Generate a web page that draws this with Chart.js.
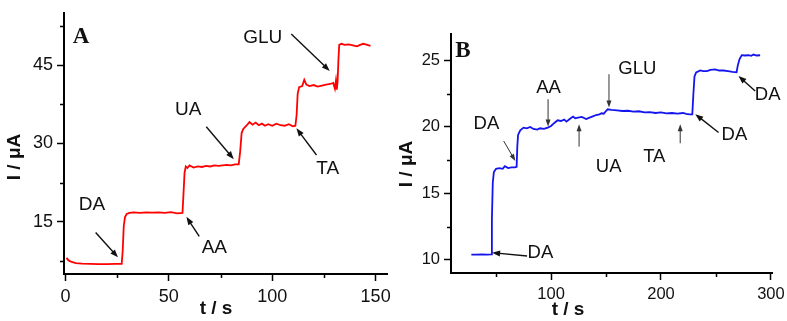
<!DOCTYPE html>
<html>
<head>
<meta charset="utf-8">
<script src="https://cdn.jsdelivr.net/npm/chart.js@4.4.1/dist/chart.umd.min.js"></script>
<style>
  html, body { margin: 0; padding: 0; background: #fff; }
  #wrap { position: relative; width: 787px; height: 321px; overflow: hidden; background: #fff; }
  canvas { position: absolute; top: 0; }
  #chartA { left: 0; }
  #chartB { left: 390px; }
</style>
</head>
<body>
<div id="wrap">
  <canvas id="chartA" width="400" height="321"></canvas>
  <canvas id="chartB" width="397" height="321"></canvas>
</div>
<script>
// Panel A: time (s) and current (µA)
const timeA = [0.5, 1.5, 3, 5, 8, 12, 16, 20, 24, 27.2, 27.7, 28.2, 28.8, 29.6, 31, 33, 36, 39, 42, 45, 48, 51, 54, 56.6,
  57.1, 57.6, 58.2, 59, 60, 62, 64, 66, 68, 70, 72, 74, 76, 78, 80, 82, 83.8, 84.5, 85.2, 86, 87.5, 89, 90.5, 92,
  93.5, 95, 96.5, 98, 100, 102, 104, 106, 108, 110, 111.2, 111.8, 112.3, 113, 114.5, 115.5, 116.5, 118, 120, 122,
  124, 126, 128, 129.5, 130.3, 130.8, 131.2, 131.6, 132, 132.4, 133.5, 135, 137, 139, 141, 142.5, 144, 146, 147.5];
const currentA = [8.1, 7.6, 7.3, 7.1, 7.0, 6.95, 6.9, 6.9, 6.95, 6.95, 9.5, 14.2, 15.9, 16.5, 16.7, 16.8, 16.7, 16.8, 16.75, 16.8, 16.7, 16.85, 16.6, 16.7,
  20.5, 24.4, 25.6, 25.3, 25.8, 25.4, 25.6, 25.5, 25.7, 25.6, 25.8, 25.7, 25.8, 25.9, 25.8, 26.0, 26.0, 28.5, 32.0, 32.8, 33.4, 34.1, 33.6, 34.0,
  33.5, 33.8, 33.4, 33.7, 33.4, 33.8, 33.5, 33.4, 33.7, 33.3, 33.4, 35.5, 39.5, 40.8, 41.0, 42.2, 41.3, 41.0, 41.2, 40.9,
  41.1, 41.3, 41.4, 41.6, 40.5, 42.0, 40.3, 41.8, 46, 48.9, 49.1, 48.9, 49.0, 48.8, 48.6, 48.9, 49.1, 48.9, 48.7];
const xTicksA = [0, 50, 100, 150];
const xMinorA = [25, 75, 125];
const yTicksA = [15, 30, 45];
const yMinorA = [7.5, 22.5, 37.5, 52.5];
const notesA = [
  { text: 'DA', at: [12.8, 18.3], from: [14.6, 12.96], to: [25.4, 8.19] },
  { text: 'AA', at: [72.0, 10.1], from: [64.7, 12.2], to: [58.5, 15.95] },
  { text: 'UA', at: [59.4, 36.4], from: [68.1, 33.2], to: [81.4, 27.0] },
  { text: 'TA', at: [126.8, 25.2], from: [121.4, 27.8], to: [111.7, 32.9] },
  { text: 'GLU', at: [95.4, 50.3], from: [109.2, 51.0], to: [127.8, 43.9] }
];

// Panel B: blue trace
const timeB = [27.5, 32, 37, 42, 45.5, 46.2, 47, 48, 50, 53, 56, 58, 61, 64, 67, 68.7, 69.3, 70, 72, 75, 78, 81, 84,
  87.5, 90, 93.5, 97, 100, 103, 106, 109, 112, 114, 117, 120, 122, 124.5, 128, 132, 135, 138, 141, 144, 146, 148, 150,
  151.5, 155, 160, 165, 170, 175, 180, 185, 190, 195, 200, 205, 210, 215, 220, 223, 226, 228.5, 229.5, 230.5, 232,
  235.7, 238.5, 241.8, 245, 249.3, 253, 256.9, 261, 265, 268.8, 269.8, 271.4, 273.5, 276, 279.6, 282, 284.2, 287, 290.2];
const currentB = [10.38, 10.38, 10.4, 10.38, 10.4, 13.0, 15.8, 16.6, 16.85, 16.9, 16.85, 17.05, 16.9, 16.95, 16.95, 17.0, 18.5, 19.4, 19.75, 19.95, 19.9, 20.0, 19.85,
  19.8, 19.9, 19.85, 19.95, 20.07, 20.3, 20.5, 20.45, 20.55, 20.4, 20.6, 20.78, 20.65, 20.7, 20.75, 20.6, 20.7, 20.8, 20.9, 20.95, 21.03, 21.0, 21.2,
  21.33, 21.28, 21.25, 21.2, 21.22, 21.15, 21.18, 21.1, 21.12, 21.05, 21.1, 21.02, 21.05, 21.0, 21.05, 20.98, 20.95, 20.95, 22.5, 23.8, 24.1,
  24.26, 24.2, 24.2, 24.3, 24.34, 24.25, 24.25, 24.2, 24.15, 24.12, 24.6, 25.09, 25.41, 25.38, 25.4, 25.35, 25.45, 25.38, 25.4];
const xTicksB = [100, 200, 300];
const xMinorB = [50, 150, 250];
const yTicksB = [10, 15, 20, 25];
const yMinorB = [12.5, 17.5, 22.5];
const notesB = [
  { text: 'DA', at: [90.3, 10.48], from: [78.2, 10.28], to: [46.4, 10.53] },
  { text: 'DA', at: [41.2, 20.24], from: [56.9, 18.94], to: [67.5, 17.44], thin: true },
  { text: 'AA', at: [97.7, 22.97], from: [97.3, 22.09], to: [97.3, 20.03], thin: true },
  { text: 'GLU', at: [178.5, 24.37], from: [152.7, 23.97], to: [152.7, 21.46], thin: true },
  { text: 'UA', at: [152.4, 17.0], from: [125.5, 18.52], to: [125.5, 20.2], thin: true },
  { text: 'TA', at: [193.9, 17.74], from: [217.5, 18.77], to: [217.5, 20.2], thin: true },
  { text: 'DA', at: [266.8, 19.39], from: [252.4, 19.58], to: [231.2, 20.96] },
  { text: 'DA', at: [297.1, 22.4], from: [285.7, 22.71], to: [270.5, 23.84] }
];

const SANS = '"Liberation Sans", Arial, sans-serif';
const SERIF = '"Liberation Serif", "Times New Roman", serif';

function arrow(ctx, x1, y1, x2, y2, thin) {
  const ang = Math.atan2(y2 - y1, x2 - x1);
  const len = thin ? 7 : 8, half = thin ? 2.5 : 3;
  ctx.strokeStyle = thin ? '#333' : '#111';
  ctx.fillStyle = ctx.strokeStyle;
  ctx.lineWidth = thin ? 1 : 1.4;
  ctx.beginPath();
  ctx.moveTo(x1, y1);
  ctx.lineTo(x2 - Math.cos(ang) * len * 0.6, y2 - Math.sin(ang) * len * 0.6);
  ctx.stroke();
  ctx.beginPath();
  ctx.moveTo(x2, y2);
  ctx.lineTo(x2 - Math.cos(ang) * len - Math.sin(ang) * half, y2 - Math.sin(ang) * len + Math.cos(ang) * half);
  ctx.lineTo(x2 - Math.cos(ang) * len + Math.sin(ang) * half, y2 - Math.sin(ang) * len - Math.cos(ang) * half);
  ctx.closePath();
  ctx.fill();
}

// minor ticks, annotations, axis titles and panel letter
function decor(p) {
  return {
    id: 'decor',
    afterDraw(chart) {
      const { ctx, chartArea: a, scales: { x, y } } = chart;
      ctx.save();
      ctx.strokeStyle = '#000';
      ctx.lineWidth = 1.5;
      ctx.beginPath();
      p.xMinor.forEach(v => {
        const px = Math.round(x.getPixelForValue(v)) + 0.5;
        ctx.moveTo(px, a.bottom); ctx.lineTo(px, a.bottom + 4);
      });
      p.yMinor.forEach(v => {
        const py = Math.round(y.getPixelForValue(v)) + 0.5;
        ctx.moveTo(a.left, py); ctx.lineTo(a.left - 4, py);
      });
      ctx.stroke();

      ctx.textAlign = 'center';
      ctx.textBaseline = 'middle';
      p.notes.forEach(n => {
        ctx.fillStyle = '#111';
        ctx.font = p.noteSize + 'px ' + SANS;
        ctx.fillText(n.text, x.getPixelForValue(n.at[0]), y.getPixelForValue(n.at[1]));
        arrow(ctx, x.getPixelForValue(n.from[0]), y.getPixelForValue(n.from[1]),
          x.getPixelForValue(n.to[0]), y.getPixelForValue(n.to[1]), n.thin);
      });

      ctx.fillStyle = '#111';
      ctx.font = 'bold 23px ' + SERIF;
      ctx.fillText(p.letter, a.left + p.letterPos[0], a.top + p.letterPos[1]);

      ctx.font = 'bold 19px ' + SANS;
      ctx.fillText('t / s', p.xTitle[0], p.xTitle[1]);
      ctx.save();
      ctx.translate(p.yTitle[0], p.yTitle[1]);
      ctx.rotate(-Math.PI / 2);
      ctx.fillText('I / μA', 0, 0);
      ctx.restore();
      ctx.restore();
    }
  };
}

function makeChart(id, xs, ys, color, o) {
  const tickFont = { family: SANS, size: o.tickSize };
  return new Chart(document.getElementById(id), {
    type: 'line',
    data: {
      datasets: [{
        data: xs.map((t, i) => ({ x: t, y: ys[i] })),
        borderColor: color,
        borderWidth: 1.8,
        pointRadius: 0,
        tension: 0,
        fill: false
      }]
    },
    options: {
      responsive: false,
      animation: false,
      devicePixelRatio: 1,
      events: [],
      layout: { padding: o.padding },
      plugins: { legend: { display: false }, tooltip: { enabled: false } },
      scales: {
        x: {
          type: 'linear',
          min: o.xRange[0], max: o.xRange[1],
          afterBuildTicks: s => { s.ticks = o.xTicks.map(v => ({ value: v })); },
          afterFit: s => { s.height = o.xHeight; s.paddingLeft = 0; s.paddingRight = 0; },
          ticks: { font: tickFont, color: '#111', padding: 5, maxRotation: 0, autoSkip: false },
          grid: { drawOnChartArea: false, tickLength: 7, tickWidth: 1.5, tickColor: '#000' },
          border: { display: true, color: '#000', width: 2 }
        },
        y: {
          min: o.yRange[0], max: o.yRange[1],
          afterBuildTicks: s => { s.ticks = o.yTicks.map(v => ({ value: v })); },
          afterFit: s => { s.width = o.yWidth; s.paddingTop = 0; s.paddingBottom = 0; },
          ticks: { font: tickFont, color: '#111', padding: 4, autoSkip: false },
          grid: { drawOnChartArea: false, tickLength: 7, tickWidth: 1.5, tickColor: '#000' },
          border: { display: true, color: '#000', width: 2 }
        }
      }
    },
    plugins: [decor(o)]
  });
}

makeChart('chartA', timeA, currentA, '#ff0000', {
  xRange: [-0.7, 155.5], yRange: [5, 55],
  xTicks: xTicksA, xMinor: xMinorA, yTicks: yTicksA, yMinor: yMinorA,
  padding: { left: 0, top: 13, right: 13, bottom: 0 },
  xHeight: 47, yWidth: 64, tickSize: 18, noteSize: 19,
  notes: notesA, letter: 'A', letterPos: [17, 24],
  xTitle: [216, 308.5], yTitle: [15, 157]
});

makeChart('chartB', timeB, currentB, '#1414ee', {
  xRange: [9, 301], yRange: [9, 27],
  xTicks: xTicksB, xMinor: xMinorB, yTicks: yTicksB, yMinor: yMinorB,
  padding: { left: 0, top: 34, right: 15, bottom: 0 },
  xHeight: 48, yWidth: 61, tickSize: 16.5, noteSize: 18.5,
  notes: notesB, letter: 'B', letterPos: [12, 17],
  xTitle: [178, 310], yTitle: [16.7, 164]
});
</script>
</body>
</html>
